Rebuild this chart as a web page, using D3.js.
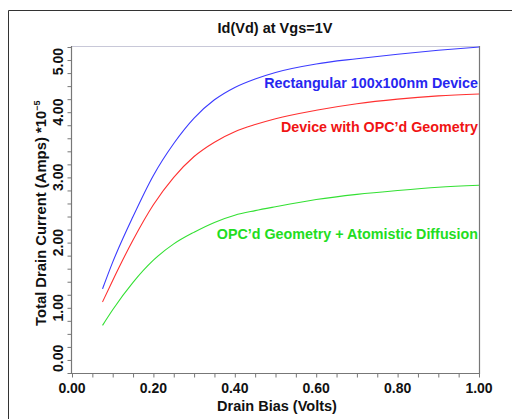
<!DOCTYPE html>
<html>
<head>
<meta charset="utf-8">
<script src="https://cdn.jsdelivr.net/npm/d3@7"></script>
<style>
  body { margin: 0; background: #fff; }
  text { font-family: "Liberation Sans", Arial, sans-serif; font-weight: bold; }
</style>
</head>
<body>
<svg id="chart" width="513" height="419"></svg>
<script>
// drain bias (V)
var vd = [0.075, 0.1, 0.15, 0.2, 0.25, 0.3, 0.35, 0.4, 0.45, 0.5, 0.6, 0.7, 0.8, 0.9, 1.0];
// total drain current (x1e-5 A)
var rectDevice = [1.29, 1.70, 2.40, 3.03, 3.52, 3.91, 4.19, 4.38, 4.51, 4.61, 4.74, 4.82, 4.89, 4.95, 5.00];
var opcDevice  = [1.09, 1.42, 2.04, 2.58, 3.00, 3.32, 3.54, 3.70, 3.81, 3.90, 4.03, 4.13, 4.20, 4.25, 4.28];
var opcAtomistic = [0.73, 0.97, 1.39, 1.73, 1.98, 2.16, 2.31, 2.42, 2.49, 2.55, 2.66, 2.74, 2.80, 2.85, 2.88];
var seriesNames = ["Rectangular 100x100nm Device", "Device with OPC\u2019d Geometry", "OPC\u2019d Geometry + Atomistic Diffusion"];
var xTicks = [0, 0.2, 0.4, 0.6, 0.8, 1.0];
var yTicks = [0, 1, 2, 3, 4, 5];

var svg = d3.select("#chart");
// note: "top" clashes with window.top, so plot edges get a prefix
var pLeft = 72, pRight = 479, pTop = 47, pBottom = 373;

var x = d3.scaleLinear().domain([0, 1]).range([pLeft, pRight]);
var y = d3.scaleLinear().domain([0, 5]).range([pBottom, pTop]);

// outer frame
svg.append("line").attr("x1", 8.5).attr("x2", 512).attr("y1", 10.5).attr("y2", 10.5)
  .attr("stroke", "#333").attr("stroke-width", 1);
svg.append("line").attr("x1", 8.5).attr("x2", 8.5).attr("y1", 10.5).attr("y2", 419)
  .attr("stroke", "#333").attr("stroke-width", 1);

// title
svg.append("text").attr("x", 275).attr("y", 33).attr("text-anchor", "middle")
  .attr("font-size", 14.5).attr("fill", "#111").text("Id(Vd) at Vgs=1V");

// plot frame top / right
svg.append("line").attr("x1", pLeft).attr("x2", pRight).attr("y1", pTop - 0.5).attr("y2", pTop - 0.5)
  .attr("stroke", "#c8c8d8");
svg.append("line").attr("x1", pRight + 0.5).attr("x2", pRight + 0.5).attr("y1", pTop - 1).attr("y2", pBottom + 1)
  .attr("stroke", "#777").attr("stroke-width", 1.2);

// x axis
var xAxis = d3.axisBottom(x).tickValues(d3.range(0, 1.0001, 0.05)).tickSize(4).tickFormat("");
var gx = svg.append("g").attr("transform", "translate(0," + (pBottom + 0.5) + ")").call(xAxis);
gx.select(".domain").attr("stroke", "#777").attr("stroke-width", 1.2).attr("d", "M" + (pLeft - 0.5) + ",0H" + (pRight + 1));
gx.selectAll(".tick line").attr("stroke", "#777");
svg.selectAll(".xlab").data(xTicks).enter().append("text")
  .attr("x", function(d) { return x(d); }).attr("y", 393)
  .attr("text-anchor", "middle").attr("font-size", 14).attr("fill", "#111")
  .text(function(d) { return d3.format(".2f")(d); });
svg.append("text").attr("x", 277).attr("y", 411).attr("text-anchor", "middle")
  .attr("font-size", 14.5).attr("fill", "#111").text("Drain Bias (Volts)");

// y axis
var yAxis = d3.axisLeft(y).tickValues(d3.range(0, 5.0001, 0.2)).tickSize(4).tickFormat("");
var gy = svg.append("g").attr("transform", "translate(" + (pLeft - 0.5) + ",0)").call(yAxis);
gy.select(".domain").attr("stroke", "#777").attr("stroke-width", 1.2).attr("d", "M0," + (pTop - 1) + "V" + (pBottom + 1));
gy.selectAll(".tick line").attr("stroke", "#777");
// end labels are kept inside the axis span
svg.selectAll(".ylab").data(yTicks).enter().append("text")
  .attr("transform", function(d) { return "translate(63," + (y(d) + (d === 0 ? -1 : d === 5 ? 1 : 0)) + ") rotate(-90)"; })
  .attr("text-anchor", function(d) { return d === 0 ? "start" : d === 5 ? "end" : "middle"; })
  .attr("font-size", 14).attr("fill", "#111")
  .text(function(d) { return d3.format(".2f")(d); });
var yt = svg.append("text").attr("transform", "translate(46,326) rotate(-90)")
  .attr("text-anchor", "start").attr("font-size", 14.8).attr("fill", "#111");
yt.append("tspan").text("Total Drain Current (Amps) *10");
yt.append("tspan").attr("font-size", 9).attr("dy", -6).text("\u22125");

// curves
var series = [
  { vals: rectDevice, color: "#3b3bff", label: "#2727f0", ly: 87.5 },
  { vals: opcDevice, color: "#ff3030", label: "#f01414", ly: 132 },
  { vals: opcAtomistic, color: "#33e033", label: "#22dd22", ly: 239 }
];
var line = d3.line().curve(d3.curveMonotoneX)
  .x(function(d) { return x(d[0]); }).y(function(d) { return y(d[1]); });
series.forEach(function(s, i) {
  var pts = vd.map(function(v, j) { return [v, s.vals[j]]; });
  svg.append("path").datum(pts).attr("d", line)
    .attr("fill", "none").attr("stroke", s.color).attr("stroke-width", 1.1);
  svg.append("text").attr("x", 478).attr("y", s.ly).attr("text-anchor", "end")
    .attr("font-size", 14.3).attr("fill", s.label).text(seriesNames[i]);
});
</script>
</body>
</html>
